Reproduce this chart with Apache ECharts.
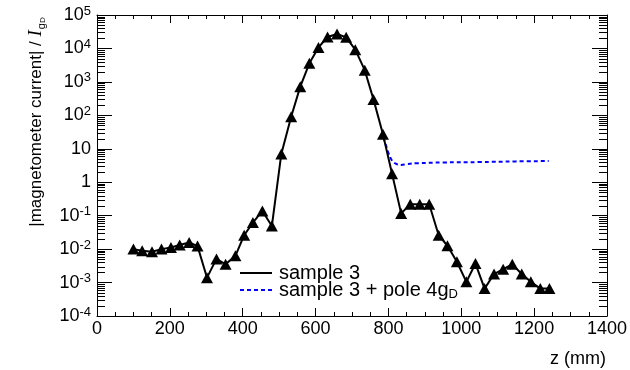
<!DOCTYPE html>
<html><head><meta charset="utf-8">
<script src="https://cdn.jsdelivr.net/npm/echarts@6/dist/echarts.min.js"></script>
<style>html,body{margin:0;padding:0;background:#fff}#c{width:630px;height:370px}</style>
</head><body><div id="c"></div>
<script>
// z positions (mm) of the "sample 3" measurements
const zSample = [100,124,151,177,203,227,253,276,302,328,353,380,404,428,454,480,506,533,558,583,608,633,659,684,709,735,759,785,810,835,860,886,912,938,962,988,1014,1039,1064,1090,1115,1140,1166,1191,1217,1242];
// |magnetometer current| / I_gD for "sample 3"
const iSample = [0.0100,0.0089,0.0083,0.0100,0.0112,0.0132,0.0158,0.0123,0.0014,0.0051,0.0035,0.0063,0.026,0.062,0.138,0.049,7.0,91,720,3600,10700,22000,27000,21500,9200,2240,300,27,1.8,0.117,0.22,0.22,0.22,0.026,0.0126,0.0042,0.00105,0.0037,0.00066,0.0018,0.0025,0.0035,0.0018,0.00105,0.00066,0.00066];
// "sample 3 + pole 4gD" curve
const zPole = [786,793,800,808,816,825,835,850,880,950,1050,1150,1240];
const iPole = [22,13,7.5,4.8,3.8,3.4,3.3,3.5,3.7,3.9,4.0,4.2,4.3];
// axis ranges
const xMin = 0, xMax = 1400, xStep = 200;
const yMin = 1e-4, yMax = 1e5;

const FONT = 'Liberation Sans';
const nameSample = 'sample 3';
const namePole = 'sample 3 + pole 4g_D';

// minor log ticks (2..9 × each decade)
const minorVals = [];
for (let e = Math.round(Math.log10(yMin)); e < Math.round(Math.log10(yMax)); e++) {
  for (let k = 2; k <= 9; k++) minorVals.push([xMin, k * Math.pow(10, e)]);
}

function yLabel(v) {
  const e = Math.round(Math.log10(v));
  if (e === 0) return '1';
  if (e === 1) return '10';
  return '10{sup|' + (e < 0 ? '-' : '') + Math.abs(e) + '}';
}

const chart = echarts.init(document.getElementById('c'), null, {renderer: 'canvas'});
const axisLineStyle = {color: '#000', width: 1};
chart.setOption({
  backgroundColor: '#fff',
  animation: false,
  grid: {left: 97, right: 23, top: 15, bottom: 54},
  xAxis: [{
    type: 'value', min: xMin, max: xMax, interval: xStep,
    axisLine: {show: true, lineStyle: axisLineStyle},
    axisTick: {show: true, inside: true, length: 8, lineStyle: axisLineStyle},
    minorTick: {show: true, splitNumber: 4, length: 4, lineStyle: axisLineStyle},
    splitLine: {show: false},
    axisLabel: {fontFamily: FONT, fontSize: 18, color: '#000', margin: 4, formatter: v => String(v)}
  }, {
    type: 'value', position: 'top', min: xMin, max: xMax, interval: xStep,
    axisLine: {show: true, onZero: false, lineStyle: axisLineStyle},
    axisTick: {show: true, inside: true, length: 8, lineStyle: axisLineStyle},
    minorTick: {show: true, splitNumber: 4, length: 4, lineStyle: axisLineStyle},
    splitLine: {show: false},
    axisLabel: {show: false}
  }],
  yAxis: [{
    type: 'log', logBase: 10, min: yMin, max: yMax, splitNumber: 9,
    axisLine: {show: true, lineStyle: axisLineStyle},
    axisTick: {show: true, inside: true, length: 15, lineStyle: axisLineStyle},
    splitLine: {show: false},
    axisLabel: {
      fontFamily: FONT, fontSize: 18, color: '#000', margin: 6,
      formatter: yLabel,
      rich: {sup: {fontFamily: FONT, fontSize: 13, color: '#000', verticalAlign: 'top', padding: [0, 0, 8, 0]}}
    }
  }, {
    type: 'log', logBase: 10, min: yMin, max: yMax, splitNumber: 9, position: 'right',
    axisLine: {show: true, onZero: false, lineStyle: axisLineStyle},
    axisTick: {show: true, inside: true, length: 15, lineStyle: axisLineStyle},
    splitLine: {show: false},
    axisLabel: {show: false}
  }],
  legend: [{
    data: [nameSample], left: 239, top: 263, padding: 0, orient: 'vertical',
    itemWidth: 32, itemHeight: 14, itemStyle: {opacity: 0},
    textStyle: {fontFamily: FONT, fontSize: 20, color: '#000', padding: [0, 0, 0, 2]}
  }, {
    data: [namePole], left: 239, top: 280, padding: 0, orient: 'vertical',
    itemWidth: 32, itemHeight: 14, itemStyle: {opacity: 0},
    formatter: n => n.replace('_D', '{sub|D}'),
    textStyle: {fontFamily: FONT, fontSize: 20, color: '#000', padding: [0, 0, 0, 2],
      rich: {sub: {fontFamily: FONT, fontSize: 13, color: '#000', verticalAlign: 'bottom', padding: [8, 0, 0, 0]}}}
  }],
  graphic: [{
    type: 'text', x: 36, y: 122, rotation: Math.PI / 2,
    style: {
      text: '|magnetometer current| / {it|I}{sub|g}{sub2|D}',
      fontFamily: FONT, fontSize: 17, fill: '#000', align: 'center', verticalAlign: 'middle',
      rich: {
        it: {fontFamily: 'Liberation Serif', fontStyle: 'italic', fontSize: 19, fill: '#000'},
        sub: {fontFamily: FONT, fontSize: 11, fill: '#000', verticalAlign: 'bottom', padding: [10, 0, 0, 1]},
        sub2: {fontFamily: FONT, fontSize: 8, fill: '#000', verticalAlign: 'bottom', padding: [14, 0, 0, 0]}
      }
    }
  }, {
    type: 'text', right: 24, top: 350,
    style: {text: 'z (mm)', fontFamily: FONT, fontSize: 18, fill: '#000'}
  }],
  series: [{
    type: 'custom', name: 'minorTicks', silent: true, z: 1,
    data: minorVals, encode: {x: 0, y: 1},
    renderItem: function (params, api) {
      const v = api.value(1);
      const pl = api.coord([xMin, v]);
      const pr = api.coord([xMax, v]);
      const y = Math.round(pl[1]) + 0.5;
      return {type: 'group', children: [
        {type: 'line', shape: {x1: pl[0], y1: y, x2: pl[0] + 8, y2: y}, style: {stroke: '#000', lineWidth: 1}},
        {type: 'line', shape: {x1: pr[0], y1: y, x2: pr[0] - 8, y2: y}, style: {stroke: '#000', lineWidth: 1}}
      ]};
    }
  }, {
    type: 'line', name: namePole, symbol: 'none', smooth: 0.4, z: 2,
    data: zPole.map((z, i) => [z, iPole[i]]),
    lineStyle: {color: '#0000ff', width: 2, type: [4, 3]},
    itemStyle: {color: '#0000ff'}
  }, {
    type: 'line', name: nameSample, symbol: 'none', z: 3,
    data: zSample.map((z, i) => [z, iSample[i]]),
    lineStyle: {color: '#000', width: 2},
    itemStyle: {color: '#000'}
  }, {
    type: 'scatter', name: 'markers', symbol: 'triangle', symbolSize: [12, 11], z: 4,
    data: zSample.map((z, i) => [z, iSample[i]]),
    itemStyle: {color: '#000', opacity: 1}
  }]
});
</script>
</body></html>
